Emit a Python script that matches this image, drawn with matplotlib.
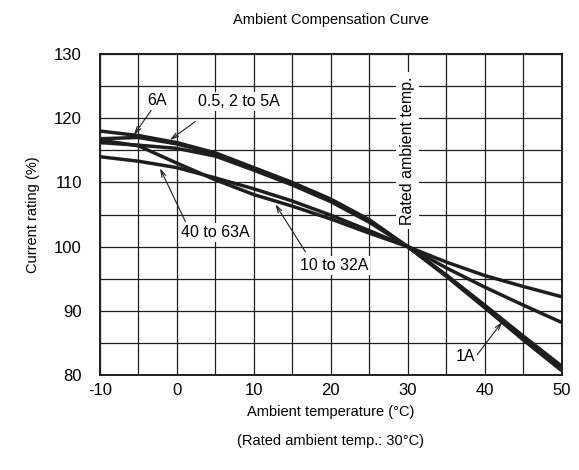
import matplotlib
matplotlib.use('Agg')
import matplotlib.pyplot as plt
import numpy as np

plt.rcParams['font.family'] = ['Liberation Sans', 'DejaVu Sans']
plt.rcParams['axes.unicode_minus'] = False

# ambient temperature (deg C) and current rating (%)
temp = [-10, -5, 0, 5, 10, 15, 20, 25, 30, 35, 40, 45, 50]
rating_05_5a = [118.0, 117.3, 116.2, 114.6, 112.3, 110.0, 107.4, 104.2, 100, 95.6, 90.9, 86.1, 81.4]
rating_6a = [116.8, 117.0, 116.0, 114.4, 112.1, 109.8, 107.2, 104.0, 100, 95.5, 90.6, 85.6, 80.9]
rating_1a = [116.2, 115.8, 115.3, 114.1, 111.9, 109.6, 107.0, 103.8, 100, 95.4, 90.5, 85.5, 80.7]
rating_10_32a = [116.6, 115.7, 113.0, 110.4, 108.1, 106.3, 104.3, 102.1, 100, 96.7, 93.7, 90.9, 88.2]
rating_40_63a = [114.0, 113.3, 112.3, 110.7, 109.0, 107.1, 104.9, 102.5, 100, 97.6, 95.5, 93.8, 92.2]

# label text, text position, arrow tip
labels = ['6A', '0.5, 2 to 5A', '40 to 63A', '10 to 32A', '1A']
label_pos = [(-2.6, 122.8), (8.0, 122.6), (5.0, 102.2), (20.4, 97.0), (37.5, 82.9)]
arrow_start = [(-3.3, 121.3), (2.4, 119.5), (1.1, 103.9), (16.7, 99.2), (39.0, 83.1)]
arrow_tip = [(-5.6, 117.4), (-0.9, 116.6), (-2.2, 112.2), (12.8, 106.6), (42.3, 88.3)]

fig = plt.figure(figsize=(5.79, 4.70), dpi=100)
ax = fig.add_axes([0.1727, 0.2021, 0.7971, 0.683])

ax.set_xlim(-10, 50)
ax.set_ylim(80, 130)
ax.set_xticks(np.arange(-10, 51, 5), minor=True)
ax.set_yticks(np.arange(80, 131, 5), minor=True)
ax.set_xticks(np.arange(-10, 51, 10))
ax.set_yticks(np.arange(80, 131, 10))
ax.grid(True, which='both', color='#1e1e1e', lw=0.9, zorder=1)
ax.tick_params(which='both', length=0, labelsize=12)
ax.tick_params(axis='y', pad=13)
ax.tick_params(axis='x', pad=6)
for s in ax.spines.values():
    s.set_linewidth(1.4)
    s.set_color('#1e1e1e')

for r in [rating_05_5a, rating_6a, rating_1a, rating_10_32a, rating_40_63a]:
    ax.plot(temp, r, color='#1e1e1e', lw=2.5, solid_capstyle='butt', zorder=3)

for lab, p, a0, a1 in zip(labels, label_pos, arrow_start, arrow_tip):
    ax.text(p[0], p[1], lab, ha='center', va='center', fontsize=11.5, zorder=5,
            bbox=dict(facecolor='white', edgecolor='none', pad=1.5))
    ax.annotate('', xy=a1, xytext=a0, zorder=4,
                arrowprops=dict(arrowstyle='->, head_length=0.5, head_width=0.15',
                                color='#1e1e1e', lw=0.8, shrinkA=0, shrinkB=0))

ax.text(30, 115.0, 'Rated ambient temp.', rotation=90, ha='center', va='center',
        fontsize=11.5, zorder=5, bbox=dict(facecolor='white', edgecolor='none', pad=3))

cx = 0.5712
fig.text(cx, 0.957, 'Ambient Compensation Curve', ha='center', va='center', fontsize=10.5)
fig.text(cx, 0.1234, 'Ambient temperature (\u00b0C)', ha='center', va='center', fontsize=10.5)
fig.text(cx, 0.0617, '(Rated ambient temp.: 30\u00b0C)', ha='center', va='center', fontsize=10.5)
fig.text(0.057, 0.5436, 'Current rating (%)', rotation=90, ha='center', va='center', fontsize=10.5)

fig.savefig('out.png', dpi=100)
